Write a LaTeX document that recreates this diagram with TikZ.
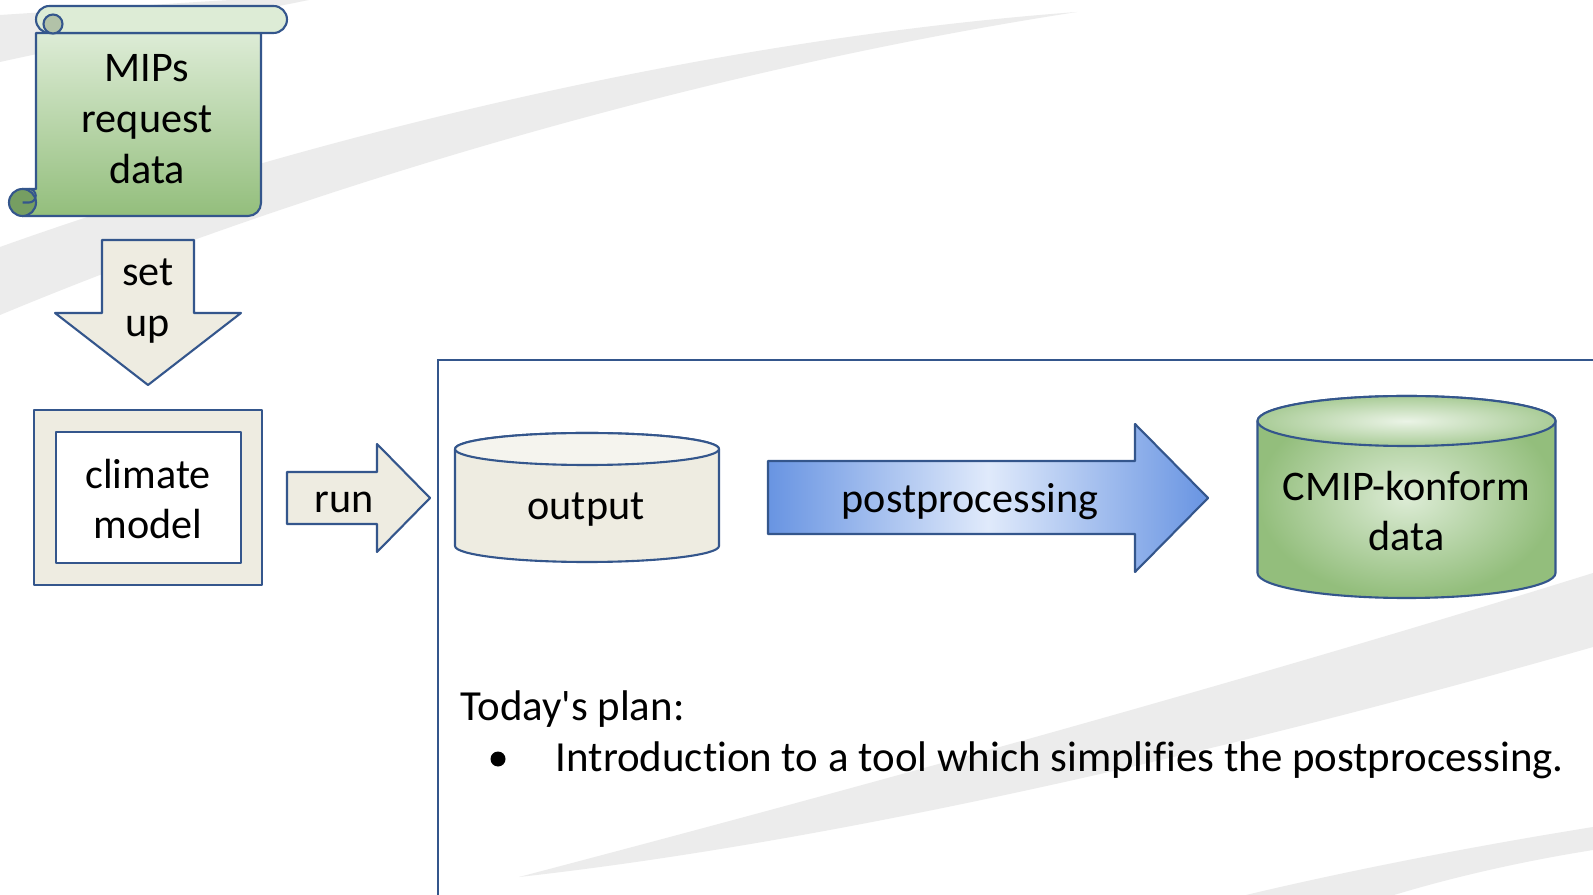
\documentclass[tikz,border=0pt]{standalone}
\usepackage{fontspec}
\setmainfont{Carlito}[Ligatures={TeX,NoCommon}]
\usepackage{tikz}

\definecolor{rim}{RGB}{52,86,140}
\definecolor{beige}{RGB}{238,236,225}
\definecolor{beigetop}{RGB}{245,244,238}
\definecolor{swoosh}{RGB}{236,236,236}
\definecolor{leaflight}{RGB}{221,236,214}
\definecolor{leafdark}{RGB}{147,190,124}
\definecolor{leafcurl}{RGB}{118,158,98}
\definecolor{leafgrey}{RGB}{178,194,168}
\definecolor{skyblue}{RGB}{104,148,226}
\definecolor{skylight}{RGB}{224,234,251}

\tikzset{
  rimline/.style={draw=rim, line width=0.6pt, line join=round},
  txt/.style={font=\fontsize{12}{14.5}\selectfont, align=center, inner sep=0pt},
  plantxt/.style={font=\fontsize{12.2}{14.5}\selectfont, inner sep=0pt, anchor=base west},
}

\begin{document}
\begin{tikzpicture}[x=0.1mm, y=-0.1mm]
\useasboundingbox (0,0) rectangle (1593,895);
\clip (0,0) rectangle (1593,895);
\fill[white] (0,0) rectangle (1593,895);
\fill[swoosh] (0,15) .. controls (80,10) and (160,4) .. (231,0) -- (309,0) .. controls (200,22) and (90,42) .. (0,62) -- cycle;
\fill[swoosh] (0,247) .. controls (300,140) and (700,40) .. (1077,12) .. controls (700,70) and (300,190) .. (0,315) -- cycle;
\fill[swoosh] (1593,573) .. controls (1250,680) and (850,790) .. (519,877) .. controls (850,840) and (1250,745) .. (1593,647) -- cycle;
\fill[swoosh] (1593,827) .. controls (1450,850) and (1330,875) .. (1246,895) -- (1394,895) .. controls (1460,875) and (1530,860) .. (1593,850) -- cycle;

\shadedraw[rimline, top color=leaflight, bottom color=leafdark] (36,33) -- (261,33) -- (261,203) arc[start angle=0, end angle=90, radius=13] -- (22.5,216) -- (22.5,189) -- (36,189) -- cycle;
\filldraw[rimline, fill=leaflight] (49.5,6) -- (273.5,6) arc[start angle=-90, end angle=90, radius=13.5] -- (49.5,33) arc[start angle=90, end angle=270, radius=13.5] -- cycle;
\filldraw[rimline, fill=leafgrey] (53,24) circle (9.5);
\filldraw[rimline, fill=leafcurl] (22.5,202.5) circle (13.5);
\draw[rimline] (22.5,202.5) -- (29,202.5) arc[start angle=90, end angle=-90, radius=6.75];
\node[txt] (mips) at (147,119) {MIPs\\request\\data};

\filldraw[rimline, fill=beige] (102,240) -- (194,240) -- (194,313) -- (241,313) -- (148,385) -- (55,313) -- (102,313) -- cycle;
\node[txt] (setup) at (148,301) {set\\up};

\filldraw[rimline, fill=beige] (34,410) rectangle (262,585);
\filldraw[rimline, fill=white] (56,432) rectangle (241,563);
\node[txt] (model) at (148,499) {climate\\model};

\filldraw[rimline, fill=beige] (287,472) -- (377,472) -- (377,444) -- (430,498) -- (377,552) -- (377,524) -- (287,524) -- cycle;
\node[txt, anchor=base] (run) at (344.5,513) {run};

\draw[draw=rim, line width=0.5pt] (438,900) -- (438,360) -- (1600,360);

\filldraw[rimline, fill=beige] (455,449) -- (455,546) arc[start angle=180, end angle=0, x radius=132, y radius=16] -- (719,449) arc[start angle=0, end angle=-180, x radius=132, y radius=16] -- cycle;
\filldraw[rimline, fill=beigetop] (587,449) ellipse [x radius=132, y radius=16];
\node[txt, anchor=base] (output) at (586,520) {output};

\shadedraw[rimline, left color=skyblue, right color=skyblue, middle color=skylight] (768,461) -- (1135,461) -- (1135,424) -- (1208,498) -- (1135,572) -- (1135,534) -- (768,534) -- cycle;
\node[txt, anchor=base] (post) at (970,513) {postprocessing};

\shadedraw[rimline, inner color=leaflight, outer color=leafdark] (1257.5,421) -- (1257.5,573) arc[start angle=180, end angle=0, x radius=149, y radius=25] -- (1555.5,421) arc[start angle=0, end angle=-180, x radius=149, y radius=25] -- cycle;
\shadedraw[rimline, inner color=leaflight!60!white, outer color=leafdark!70!leaflight] (1406.5,421) ellipse [x radius=149, y radius=25];
\node[txt] (cmip) at (1406.5,511) {CMIP-konform\\data};

\node[plantxt] (plan) at (459.7,720) {Today\textquotesingle s plan:};
\fill[black] (498,759) circle (7.5);
\node[plantxt] (item) at (555,771) {Introduction to a tool which simplifies the postprocessing.};
\end{tikzpicture}
\end{document}
